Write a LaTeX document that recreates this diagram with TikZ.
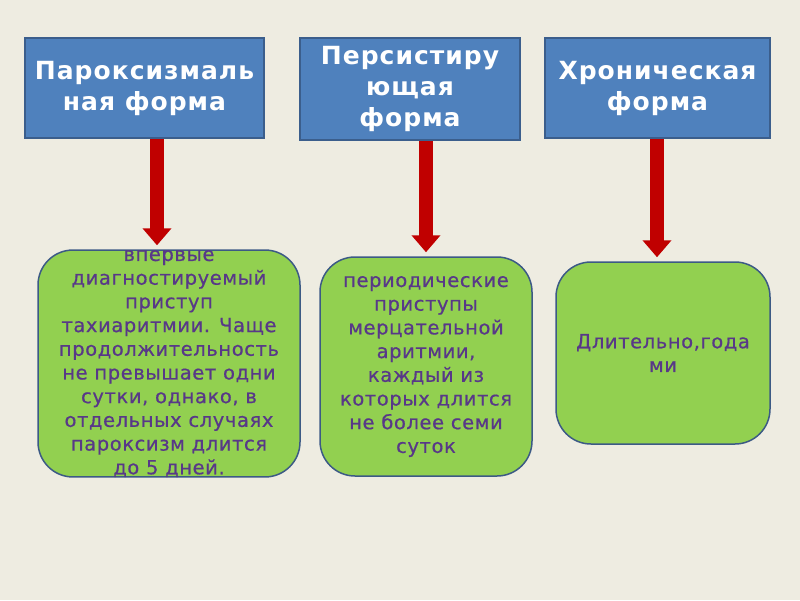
\documentclass[tikz,border=0pt]{standalone}
\usepackage{fontspec}
\usetikzlibrary{arrows.meta,positioning}

\newfontfamily\headfont[LetterSpace=4]{DejaVu Sans}
\newfontfamily\bodyfont[LetterSpace=3,FakeBold=0.6]{DejaVu Sans}

\definecolor{slidebg}{HTML}{EEECE1}
\definecolor{formblue}{HTML}{4F81BD}
\definecolor{formedge}{HTML}{3B5E8C}
\definecolor{descgreen}{HTML}{92D050}
\definecolor{descedge}{HTML}{3C5A85}
\definecolor{desctext}{HTML}{583888}
\definecolor{arrowred}{HTML}{C00000}

\tikzset{
  formbox/.style={draw=formedge, line width=1.5pt, fill=formblue, text=white,
    inner sep=0pt, align=center,
    font=\headfont\bfseries\fontsize{25}{31}\selectfont},
  descbox/.style={draw=descedge, line width=1.5pt, fill=descgreen, text=desctext,
    rounded corners=35pt, inner sep=0pt, align=center,
    font=\bodyfont\fontsize{19.5}{23.7}\selectfont},
  downarrow/.style={draw=arrowred, line width=14pt, shorten >=4pt,
    -{Triangle[width=28pt,length=17pt]}}
}

\begin{document}
\begin{tikzpicture}[x=1pt,y=-1pt]

  \fill [slidebg] (0,0) rectangle (800,600) ;
  \useasboundingbox (0,0) rectangle (800,600) ;

  % top row
  \node (parox) [formbox, minimum width=239pt, minimum height=100pt] at (144.5,88)
    {Пароксизмаль\\ная форма} ;

  \node (persist) [formbox, minimum width=220pt, minimum height=102pt] at (410,89)
    {Персистиру\\ющая\\форма} ;

  \node (chron) [formbox, minimum width=225pt, minimum height=100pt] at (657.5,88)
    {Хроническая\\форма} ;

  % bottom row
  \node (parox-d) [descbox, minimum width=262pt, minimum height=225pt] at (169,363.5)
    {впервые\\диагностируемый\\приступ\\тахиаритмии. Чаще\\продолжительность\\не превышает одни\\сутки, однако, в\\отдельных случаях\\пароксизм длится\\до 5 дней.} ;

  \node (persist-d) [descbox, minimum width=212pt, minimum height=219pt] at (426,366.5)
    {периодические\\приступы\\мерцательной\\аритмии,\\каждый из\\которых длится\\не более семи\\суток} ;

  \node (chron-d) [descbox, minimum width=214pt, minimum height=182pt] at (663,353)
    {Длительно,года\\ми} ;

  \draw [downarrow] (parox.south -| 157,0) -- (parox-d.north -| 157,0) ;

  \draw [downarrow] (persist.south -| 426,0) -- (persist-d.north) ;

  \draw [downarrow] (chron.south -| 657,0) -- (chron-d.north -| 657,0) ;

\end{tikzpicture}
\end{document}
